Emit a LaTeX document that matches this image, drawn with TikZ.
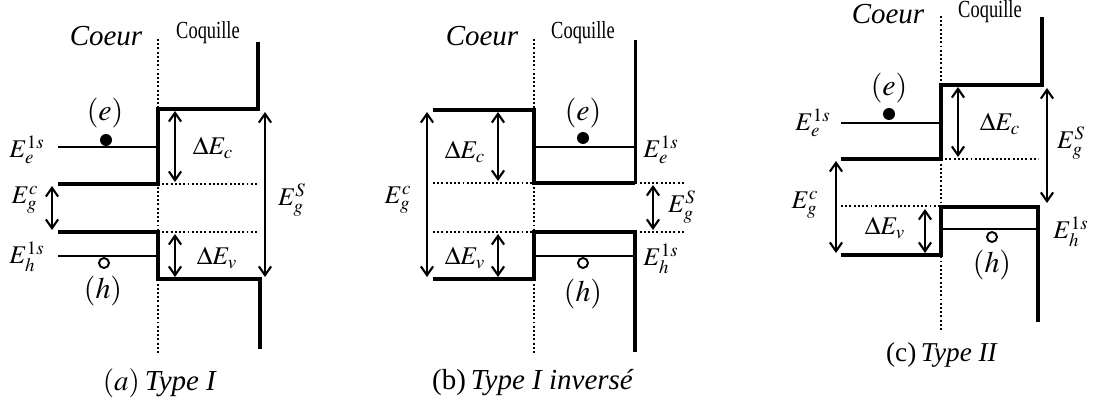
\documentclass[tikz,border=0pt]{standalone}
\usepackage{mathptmx}
\usepackage{fontspec}
\setmainfont{Liberation Serif}
\newfontfamily\narrowserif[FakeStretch=0.75]{Liberation Serif}
\usetikzlibrary{arrows.meta}

\begin{document}
\begin{tikzpicture}[x=0.02cm,y=-0.02cm,
  band/.style={line width=2.3pt},
  midband/.style={line width=1.7pt},
  level/.style={line width=1.1pt},
  iface/.style={line width=1.1pt,dash pattern=on 1.1pt off 1.3pt},
  gap/.style={{Straight Barb[length=5pt,width=7pt]}-{Straight Barb[length=5pt,width=7pt]},line width=1.2pt},
  lbl/.style={font=\fontsize{14.5}{16}\selectfont,inner sep=0pt},
  carrier/.style={font=\fontsize{17}{18}\selectfont,inner sep=0pt},
  legend/.style={font=\fontsize{16.5}{18}\selectfont,inner sep=0pt},
  coeur/.style={font=\fontsize{16.5}{18}\selectfont\itshape,inner sep=0pt},
  coq/.style={font=\narrowserif\fontsize{14}{15}\selectfont,inner sep=0pt},
  edot/.style={circle,fill,inner sep=0pt,minimum size=0.24cm},
  hdot/.style={circle,draw,line width=1.1pt,inner sep=0pt,minimum size=0.2cm}]
\useasboundingbox (0,0) rectangle (1094,405);

% (a) type I
\node[coeur] (aCoeur) at (106,36) {Coeur};
\node[coq] (aCoq) at (208,33) {Coquille};
\draw[iface] (158,39) -- (158,355);
\draw[iface] (158,184) -- (258,184);
\draw[iface] (158,232) -- (258,232);
\draw[band] (258,42) -- (258,109) -- (158,109) -- (158,184) -- (58,184);
\draw[band] (58,232) -- (158,232) -- (158,279) -- (260,279) -- (260,349);
\draw[level] (58,147) -- (158,147);
\draw[level] (58,256) -- (158,256);
\node[edot] (aE) at (106,140) {};
\node[hdot] (aH) at (104,263) {};
\path (175,111) coordinate (aDcT) (175,182) coordinate (aDcB)
      (175,234) coordinate (aDvT) (175,277) coordinate (aDvB)
      (52,186) coordinate (aGcT) (52,230) coordinate (aGcB)
      (265,112) coordinate (aGsT) (265,277) coordinate (aGsB);
\draw[gap] (aDcT) -- (aDcB);
\draw[gap] (aDvT) -- (aDvB);
\draw[gap] (aGcT) -- (aGcB);
\draw[gap] (aGsT) -- (aGsB);
\node[carrier] (ae) at (105,113) {$(e)$};
\node[carrier] (ah) at (103,291) {$(h)$};
\node[lbl] (aEe) at (27,150) {$E_e^{1s}$};
\node[lbl] (aEh) at (27,257) {$E_h^{1s}$};
\node[lbl] (aEgc) at (25,200) {$E_g^c$};
\node[lbl] (aEgs) at (292,200) {$E_g^S$};
\node[lbl] (aDEc) at (213,148) {$\Delta E_c$};
\node[lbl] (aDEv) at (217,258) {$\Delta E_v$};
\node[legend] (aCap) at (160,383) {$(a)$\,\textit{Type I}};

% (b) type I inverse
\node[coeur] (bCoeur) at (482,36) {Coeur};
\node[coq] (bCoq) at (583,33) {Coquille};
\draw[iface] (534,39) -- (534,355);
\draw[iface] (433,183) -- (685,183);
\draw[iface] (433,232) -- (685,232);
\draw[band] (433,110) -- (534,110) -- (534,183) -- (635,183);
\draw[midband] (635,183) -- (635,40);
\draw[midband] (534,147) -- (635,147);
\draw[band] (433,279) -- (534,279) -- (534,232) -- (635,232) -- (635,352);
\draw[level] (534,256) -- (635,256);
\node[edot] (bE) at (583,138) {};
\node[hdot] (bH) at (583,263) {};
\path (427,112) coordinate (bGcT) (427,277) coordinate (bGcB)
      (498,112) coordinate (bDcT) (498,181) coordinate (bDcB)
      (498,234) coordinate (bDvT) (498,277) coordinate (bDvB)
      (653,185) coordinate (bGsT) (653,230) coordinate (bGsB);
\draw[gap] (bGcT) -- (bGcB);
\draw[gap] (bDcT) -- (bDcB);
\draw[gap] (bDvT) -- (bDvB);
\draw[gap] (bGsT) -- (bGsB);
\node[carrier] (be) at (583,113) {$(e)$};
\node[carrier] (bh) at (583,294) {$(h)$};
\node[lbl] (bEe) at (661,150) {$E_e^{1s}$};
\node[lbl] (bEh) at (661,259) {$E_h^{1s}$};
\node[lbl] (bEgc) at (398,200) {$E_g^c$};
\node[lbl] (bEgs) at (682,207) {$E_g^S$};
\node[lbl] (bDEc) at (465,152) {$\Delta E_c$};
\node[lbl] (bDEv) at (465,258) {$\Delta E_v$};
\node[legend] (bCap) at (533,383) {(b)\,\textit{Type I inversé}};

% (c) type II
\node[coeur] (cCoeur) at (888,14) {Coeur};
\node[coq] (cCoq) at (990,12) {Coquille};
\draw[iface] (941,16) -- (941,330);
\draw[iface] (941,159) -- (1038,159);
\draw[iface] (841,206) -- (941,206);
\draw[band] (1042,17) -- (1042,85) -- (941,85) -- (941,159) -- (841,159);
\draw[band] (841,255) -- (941,255) -- (941,207) -- (1038,207) -- (1038,322);
\draw[level] (841,123) -- (941,123);
\draw[level] (941,229) -- (1038,229);
\node[edot] (cE) at (889,114) {};
\node[hdot] (cH) at (992,237) {};
\path (958,87) coordinate (cDcT) (958,157) coordinate (cDcB)
      (1047,88) coordinate (cGsT) (1047,203) coordinate (cGsB)
      (836,161) coordinate (cGcT) (836,253) coordinate (cGcB)
      (925,209) coordinate (cDvT) (925,253) coordinate (cDvB);
\draw[gap] (cDcT) -- (cDcB);
\draw[gap] (cGsT) -- (cGsB);
\draw[gap] (cGcT) -- (cGcB);
\draw[gap] (cDvT) -- (cDvB);
\node[carrier] (ce) at (889,88) {$(e)$};
\node[carrier] (ch) at (992,265) {$(h)$};
\node[lbl] (cEe) at (813,123) {$E_e^{1s}$};
\node[lbl] (cEh) at (1071,232) {$E_h^{1s}$};
\node[lbl] (cEgc) at (805,205) {$E_g^c$};
\node[lbl] (cEgs) at (1071,143) {$E_g^S$};
\node[lbl] (cDEc) at (1000,124) {$\Delta E_c$};
\node[lbl] (cDEv) at (885,228) {$\Delta E_v$};
\node[legend,font=\fontsize{15.5}{17}\selectfont] (cCap) at (942,355) {(c)\,\textit{Type II}};
\end{tikzpicture}
\end{document}
